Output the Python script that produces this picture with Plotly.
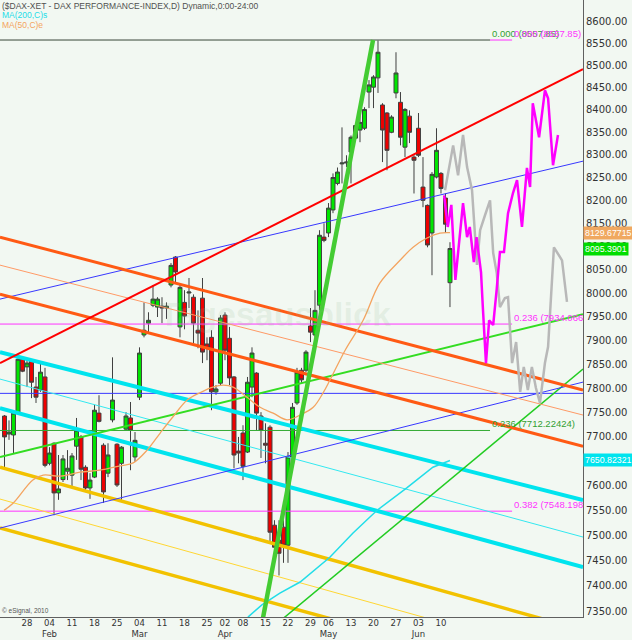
import math
import plotly.graph_objects as go

# ---------------- data ----------------
day_index = list(range(100))
open_ = [7742, 7705, 7703, 7748, 7860, 7844, 7858, 7802, 7796, 7823,
         7645, 7686, 7585, 7612, 7629, 7621, 7680, 7699, 7637, 7595,
         7617, 7748, 7682, 7625, 7734, 7684, 7645, 7715, 7738, 7658,
         7781, 7911, 7936, 7974, 7970, 7972, 7968, 8017, 8077, 7928,
         7980, 8000, 7991, 7921, 7989, 7892, 7906, 7792, 7810, 7953,
         7904, 7823, 7670, 7707, 7668, 7802, 7831, 7742, 7686, 7719,
         7520, 7490, 7516, 7480, 7658, 7769, 7837, 7837, 7930, 7911,
         7974, 8120, 8129, 8179, 8237, 8280, 8282, 8306, 8337, 8355,
         8359, 8440, 8451, 8472, 8411, 8393, 8350, 8438, 8417, 8317,
         8386, 8295, 8359, 8229, 8189, 8129, 8251, 8259, 8205, 8022]
high = [7744, 7733, 7754, 7862, 7862, 7860, 7860, 7823, 7854, 7842,
        7678, 7688, 7662, 7662, 7672, 7666, 7738, 7703, 7641, 7625,
        7765, 7785, 7686, 7686, 7864, 7686, 7680, 7750, 7771, 7709,
        7885, 7980, 7959, 8017, 7991, 7991, 7980, 8064, 8079, 8021,
        8006, 8032, 7997, 7963, 8032, 7906, 7921, 7806, 7953, 7959,
        7928, 7825, 7699, 7723, 7823, 7885, 7833, 7750, 7727, 7723,
        7530, 7530, 7530, 7668, 7769, 7842, 7842, 7879, 7968, 8006,
        8135, 8150, 8194, 8259, 8272, 8361, 8299, 8343, 8370, 8399,
        8406, 8467, 8478, 8557.85, 8415, 8395, 8388, 8530, 8440, 8404,
        8399, 8299, 8393, 8295, 8191, 8262, 8359, 8262, 8215, 8109]
low = [7637, 7693, 7666, 7746, 7833, 7802, 7779, 7769, 7792, 7637,
       7641, 7540, 7571, 7607, 7611, 7597, 7652, 7611, 7591, 7573,
       7615, 7729, 7565, 7617, 7729, 7597, 7571, 7713, 7631, 7648,
       7775, 7906, 7915, 7970, 7949, 7936, 7945, 8012, 8021, 7906,
       7923, 7968, 7894, 7883, 7852, 7858, 7754, 7786, 7806, 7858,
       7806, 7635, 7645, 7611, 7666, 7781, 7713, 7656, 7645, 7484,
       7466, 7420, 7445, 7445, 7656, 7765, 7810, 7833, 7896, 7906,
       7963, 8109, 8120, 8172, 8233, 8237, 8273, 8237, 8337, 8328,
       8355, 8404, 8404, 8438, 8284, 8266, 8348, 8426, 8321, 8295,
       8326, 8215, 8295, 8185, 8098, 8038, 8248, 8215, 8129, 7970]
close = [7699, 7709, 7748, 7860, 7835, 7852, 7812, 7781, 7833, 7641,
         7666, 7585, 7593, 7654, 7635, 7660, 7713, 7633, 7595, 7611,
         7754, 7731, 7587, 7662, 7775, 7601, 7678, 7742, 7713, 7692,
         7873, 7921, 7942, 7987, 7987, 7968, 7972, 8059, 8045, 8012,
         7951, 8002, 7936, 7915, 7875, 7883, 7792, 7798, 7947, 7879,
         7821, 7662, 7666, 7639, 7812, 7873, 7748, 7713, 7682, 7506,
         7476, 7464, 7480, 7658, 7760, 7833, 7817, 7875, 7917, 7963,
         8124, 8113, 8183, 8250, 8262, 8282, 8284, 8339, 8365, 8372,
         8401, 8456, 8474, 8530, 8355, 8310, 8384, 8483, 8339, 8401,
         8350, 8288, 8299, 8200, 8103, 8257, 8310, 8226, 8148, 8095.3901]

tick_index = [5, 10, 15, 20, 25, 30, 35, 40, 45, 49, 53, 58, 63, 68, 72, 77, 82, 87, 92, 97]
tick_day = ["28", "04", "11", "18", "25", "04", "11", "18", "25", "02",
            "08", "15", "22", "29", "06", "13", "20", "27", "03", "10"]
tick_month = ["", "Feb", "", "", "", "Mar", "", "", "", "Apr",
              "", "", "", "", "May", "", "", "", "Jun", ""]

ma50_x = [-0.1, 1.9, 6.3, 8.6, 12.3, 16.8, 21.2, 25.7, 28.6, 31.7, 34.6, 37.4, 40.6,
          43.4, 46.3, 48.6, 50.8, 53.9, 56.8, 59.7, 62.8, 65.7, 68.6, 70.8, 72.3,
          75.7, 79.7, 83.4, 87.9, 90.8, 93.9, 96.8, 99]
ma50_y = [7550, 7564, 7611, 7621, 7619, 7627, 7631, 7640, 7646, 7672, 7707, 7740, 7775,
          7790, 7802, 7806, 7802, 7781, 7760, 7748, 7734, 7744, 7760, 7790, 7816,
          7879, 7942, 8021, 8070, 8098, 8118, 8128.7, 8129.67715]

ma200_x = [54.1, 57.2, 61.2, 65.7, 72.3, 77.4, 82.8, 89.4, 95.2, 99]
ma200_y = [7338, 7362, 7385, 7407, 7456, 7504, 7550, 7595, 7637, 7650.82321]

proj_magenta_x = [97.7, 98.5, 99.3, 100.2, 101.9, 102.8, 103.4, 104.3, 104.9, 105.9,
                  106.3, 107.0, 107.7, 108.6, 109.4, 110.1, 111.0, 111.9, 113.0, 113.9,
                  115.0, 116.1, 116.8, 117.4, 118.8, 120.1, 120.8, 121.9, 123.0]
proj_magenta_y = [8211, 8142, 8190, 8028, 8194, 8120, 8142, 8066, 8120, 8044,
                  7970, 7852, 7942, 7932, 8010, 8088, 8088, 8172, 8216, 8244,
                  8142, 8271, 8229, 8415, 8339, 8444, 8426, 8277, 8344]

proj_grey_x = [97.9, 99.7, 100.8, 101.9, 102.8, 103.9, 105.0, 105.7, 106.8, 107.9,
               108.6, 109.4, 110.1, 111.2, 111.9, 112.8, 113.7, 114.6, 115.4, 116.3,
               117.2, 118.1, 119.0, 120.1, 120.8, 121.2, 122.1, 123.9, 125.0]
proj_grey_y = [8222, 8321, 8255, 8344, 8273, 8222, 8060, 8135, 8168, 8200,
               8086, 8042, 7970, 7989, 7991, 7852, 7896, 7792, 7844, 7796,
               7844, 7800, 7769, 7852, 7886, 7957, 8098, 8070, 7981]

# drawn trend lines: (x0, price0, x1, price1)
trend_lines = {
    "gold_thick_upper": (-1, 7637.4, 128.56, 7312.5),
    "gold_thin": (-1, 7572.6, 128.56, 7251.4),
    "gold_thick_lower": (-1, 7514.3, 128.56, 7200.8),
    "cyan_thick_upper": (-1, 7875.0, 128.56, 7570.6),
    "cyan_thin": (-1, 7818.6, 128.56, 7496.3),
    "cyan_thick_lower": (-1, 7758.4, 128.56, 7436.7),
    "green_rising": (-1, 7657.8, 128.56, 7955.0),
    "green_steep_right": (60.0, 7321.3, 128.56, 7839.4),
    "blue_upper": (-1, 7987.0, 128.56, 8286.0),
    "blue_lower": (-1, 7514.3, 128.56, 7812.3),
    "orange_thick_a": (-1, 8120.0, 128.56, 7795.8),
    "orange_thin": (-1, 8059.6, 128.56, 7744.0),
    "orange_thick_b": (-1, 7997.6, 128.56, 7680.0),
    "red_channel": (-1, 7852.0, 128.56, 8491.7),
}
rally_line = (56.3, 7283.7, 81.9, 8557.85)

blue_level = 7788.9
fib_green = [(8557.85, 107.9, "0.000 (8557.85)"), (7712.22424, 107.9, "0.236 (7712.22424)")]
fib_magenta = [(8557.85, 112.8, "0.000 (8557.85)"), (7934.0664, 112.8, "0.236 (7934.066"),
               (7548.1984, 112.8, "0.382 (7548.198")]

last_close = 8095.3901
ma50_last = 8129.67715
ma200_last = 7650.82321

price_ticks = list(range(7350, 8651, 50))
x_min, x_max = -1, 128.56
p_min, p_max = 7338.3, 8649.6

# ---------------- styles ----------------
line_styles = {
    "gold_thick_upper": dict(color="#f2c200", width=3.5),
    "gold_thin": dict(color="#ffd633", width=1),
    "gold_thick_lower": dict(color="#f2c200", width=3.5),
    "cyan_thick_upper": dict(color="#00e4ee", width=4),
    "cyan_thin": dict(color="#33e8f0", width=1),
    "cyan_thick_lower": dict(color="#00e4ee", width=4),
    "green_rising": dict(color="#33dd22", width=2),
    "green_steep_right": dict(color="#22cc22", width=1.5),
    "blue_upper": dict(color="#3838ff", width=1),
    "blue_lower": dict(color="#3838ff", width=1),
    "orange_thick_a": dict(color="#ff5a14", width=3),
    "orange_thin": dict(color="#ff9a66", width=1),
    "orange_thick_b": dict(color="#ff5a14", width=3),
    "red_channel": dict(color="#ff0000", width=2),
}

fig = go.Figure()


def seg(x0, y0, x1, y1, line):
    fig.add_trace(go.Scatter(x=[x0, x1], y=[y0, y1], mode="lines", line=line,
                             hoverinfo="skip", showlegend=False))


# horizontal levels
seg(x_min, blue_level, x_max, blue_level, dict(color="#3838ff", width=1))
for price, xe, _ in fib_magenta:
    seg(x_min, price, xe, price, dict(color="#ff33ff", width=1))
for price, xe, _ in fib_green:
    seg(x_min, price, xe, price, dict(color="#33aa33", width=1))

for name, (x0, y0, x1, y1) in trend_lines.items():
    seg(x0, y0, x1, y1, line_styles[name])

fig.add_trace(go.Scatter(x=ma200_x, y=ma200_y, mode="lines",
                         line=dict(color="#22dde8", width=1.5), hoverinfo="skip"))
fig.add_trace(go.Scatter(x=ma50_x, y=ma50_y, mode="lines",
                         line=dict(color="#f4a460", width=1.3, shape="spline"), hoverinfo="skip"))

fig.add_trace(go.Candlestick(
    x=day_index, open=open_, high=high, low=low, close=close,
    increasing=dict(line=dict(color="#404040", width=1), fillcolor="#00e600"),
    decreasing=dict(line=dict(color="#404040", width=1), fillcolor="#ee0000"),
    whiskerwidth=0, hoverinfo="skip", showlegend=False))

seg(rally_line[0], rally_line[1], rally_line[2], rally_line[3], dict(color="#44cc33", width=4.5))

fig.add_trace(go.Scatter(x=proj_grey_x, y=proj_grey_y, mode="lines",
                         line=dict(color="#b8b8b8", width=2.5), hoverinfo="skip"))
fig.add_trace(go.Scatter(x=proj_magenta_x, y=proj_magenta_y, mode="lines",
                         line=dict(color="#ff00ff", width=2.5), hoverinfo="skip"))

ann = []
for price, xe, label in fib_green:
    ann.append(dict(x=xe, y=math.log10(price), xref="x", yref="y", text=label,
                    showarrow=False, xanchor="left", yanchor="bottom", yshift=-1,
                    font=dict(color="#33a033", size=9.5, family="Liberation Sans")))
for price, xe, label in fib_magenta:
    ann.append(dict(x=xe, y=math.log10(price), xref="x", yref="y", text=label,
                    showarrow=False, xanchor="left", yanchor="bottom", yshift=-1,
                    font=dict(color="#ff33ff", size=9.5, family="Liberation Sans")))

for val, bg in [(ma50_last, "#f0a860"), (last_close, "#00dd00"), (ma200_last, "#00e4ee")]:
    ann.append(dict(x=1, y=math.log10(val), xref="paper", yref="y", text=f"{val}",
                    showarrow=False, xanchor="left", yanchor="middle", bgcolor=bg,
                    borderpad=1, xshift=0,
                    font=dict(color="white", size=8.8,
                              family="Liberation Sans Narrow, Arial Narrow, Liberation Sans")))

ann.append(dict(x=0, y=1 - 6 / 617, xref="paper", yref="paper",
                text="($DAX-XET - DAX PERFORMANCE-INDEX,D) Dynamic,0:00-24:00",
                showarrow=False, xanchor="left", yanchor="middle",
                font=dict(color="#505050", size=8.5, family="Liberation Sans")))
ann.append(dict(x=0, y=1 - 15 / 617, xref="paper", yref="paper", text="MA(200,C)s",
                showarrow=False, xanchor="left", yanchor="middle",
                font=dict(color="#22dde8", size=8.5, family="Liberation Sans")))
ann.append(dict(x=0, y=1 - 25 / 617, xref="paper", yref="paper", text="MA(50,C)e",
                showarrow=False, xanchor="left", yanchor="middle",
                font=dict(color="#f4a460", size=8.5, family="Liberation Sans")))
ann.append(dict(x=0, y=6 / 617, xref="paper", yref="paper", text="© eSignal, 2010",
                showarrow=False, xanchor="left", yanchor="middle",
                font=dict(color="#555555", size=6.5, family="Liberation Sans")))
ann.append(dict(x=275 / 583, y=1 - 314 / 617, xref="paper", yref="paper", text="<b>Tagesausblick</b>",
                showarrow=False, xanchor="center", yanchor="middle",
                font=dict(color="rgba(150,190,150,0.16)", size=34, family="Liberation Sans")))

fig.update_layout(
    width=632, height=640,
    margin=dict(l=0, r=49, t=0, b=23),
    paper_bgcolor="#f2f8f2", plot_bgcolor="#f2f8f2",
    showlegend=False,
    boxgap=0.12, boxgroupgap=0,
    annotations=ann,
    xaxis=dict(range=[x_min, x_max], tickmode="array", tickvals=tick_index,
               ticktext=[d + ("<br>" + m if m else "") for d, m in zip(tick_day, tick_month)],
               showgrid=False, zeroline=False, showline=True, linecolor="#606060",
               ticks="", automargin=False, rangeslider=dict(visible=False),
               ticklabelstandoff=-2,
               tickfont=dict(family="DejaVu Sans", size=8.5, color="#333333")),
    yaxis=dict(type="log", range=[math.log10(p_min), math.log10(p_max)], side="right",
               tickmode="array", tickvals=price_ticks, ticktext=[f"{v:.2f}" for v in price_ticks],
               showgrid=False, zeroline=False, showline=True, linecolor="#606060",
               ticks="", automargin=False,
               tickfont=dict(family="DejaVu Sans", size=10, color="#333333")),
)

fig.write_html("out.html", config={"displayModeBar": False},
               post_script="document.body.style.margin='0px';document.body.style.background='#f2f8f2';")
